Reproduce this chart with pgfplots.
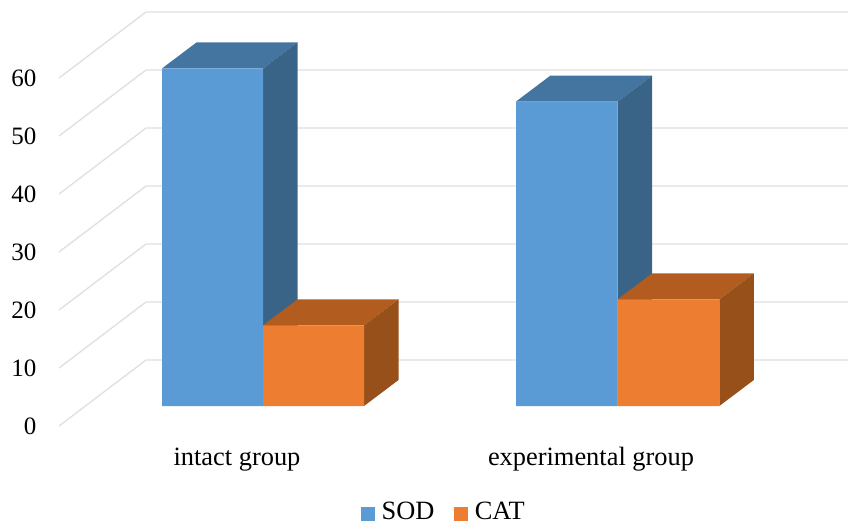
\documentclass[border=0pt]{standalone}
\usepackage{fontspec}
\setmainfont{Liberation Serif}
\usepackage{pgfplots}
\pgfplotsset{compat=1.18}

\definecolor{sodFront}{HTML}{5B9BD5}
\definecolor{sodTop}{HTML}{4474A0}
\definecolor{sodSide}{HTML}{3A6487}
\definecolor{catFront}{HTML}{ED7D31}
\definecolor{catTop}{HTML}{B35C20}
\definecolor{catSide}{HTML}{98501B}
\definecolor{wall}{HTML}{DFDFDF}

% Oblique depth of a bar: floor offset of its front face, and shift to its back face
\def\floorY{3.448}
\def\depthX{34.5}
\def\depthY{4.483}

% One gridline on the side wall and back wall: #1 is the value at the front end
\newcommand{\wallline}[1]{%
  \pgfmathsetmacro{\yb}{#1+11.379}%
  \edef\temp{\noexpand\addplot[wall,line width=1.3pt,forget plot] coordinates {(59,#1) (146,\yb) (848,\yb)};}%
  \temp
}

% One oblique bar: left edge, right edge, value, colour stem
\newcommand{\barbox}[4]{%
  \pgfmathsetmacro{\xa}{#1}%
  \pgfmathsetmacro{\xb}{#2}%
  \pgfmathsetmacro{\xc}{#1+\depthX}%
  \pgfmathsetmacro{\xd}{#2+\depthX}%
  \pgfmathsetmacro{\ya}{\floorY}%
  \pgfmathsetmacro{\yb}{\floorY+#3}%
  \pgfmathsetmacro{\yc}{\floorY+\depthY}%
  \pgfmathsetmacro{\yd}{\floorY+\depthY+#3}%
  \edef\temp{%
    \noexpand\addplot[fill=#4Top,draw=none,forget plot] coordinates {(\xa,\yb) (\xb,\yb) (\xd,\yd) (\xc,\yd) (\xa,\yb)};
    \noexpand\addplot[fill=#4Side,draw=none,forget plot] coordinates {(\xb,\ya) (\xd,\yc) (\xd,\yd) (\xb,\yb) (\xb,\ya)};
    \noexpand\addplot[fill=#4Front,draw=none,forget plot] coordinates {(\xa,\ya) (\xb,\ya) (\xb,\yb) (\xa,\yb) (\xa,\ya)};
  }%
  \temp
}

\begin{document}
\begin{tikzpicture}
\path[use as bounding box] (0,0) rectangle (848pt,523pt);
\begin{axis}[
  at={(0,0)}, anchor=south west,
  scale only axis, width=848pt, height=523pt,
  xmin=0, xmax=848, ymin=-16.72, ymax=73.45,
  axis line style={draw=none},
  major tick length=0pt,
  tick style={draw=none},
  ytick={0,10,...,60},
  xtick={237,591},
  xticklabels={intact group,experimental group},
  ytick pos=left, xtick pos=lower,
  /pgf/number format/assume math mode=true,
  yticklabel style={font=\fontsize{25}{28}\selectfont, anchor=east, xshift=36.5pt, inner sep=0pt},
  xticklabel style={font=\fontsize{26.4}{30}\selectfont, anchor=base, yshift=58pt, inner sep=0pt},
  legend style={
    draw=none, fill=none, inner sep=0pt, outer sep=0pt,
    at={(444pt,0pt)}, anchor=south,
    legend columns=2,
    font=\fontsize{26.4}{28}\selectfont,
    /tikz/every even column/.append style={column sep=18pt},
  },
  legend image code/.code={\fill[#1] (0pt,-8.5pt) rectangle (13pt,4.5pt); \path (18pt,0pt);},
]
\wallline{0}\wallline{10}\wallline{20}\wallline{30}\wallline{40}\wallline{50}\wallline{60}

\barbox{162}{263}{58.2}{sod}
\barbox{263}{364}{13.9}{cat}
\barbox{516}{617.7}{52.5}{sod}
\barbox{617.7}{719.3}{18.4}{cat}

\addlegendimage{sodFront}\addlegendentry{SOD}
\addlegendimage{catFront}\addlegendentry{CAT}
\end{axis}
\end{tikzpicture}
\end{document}
